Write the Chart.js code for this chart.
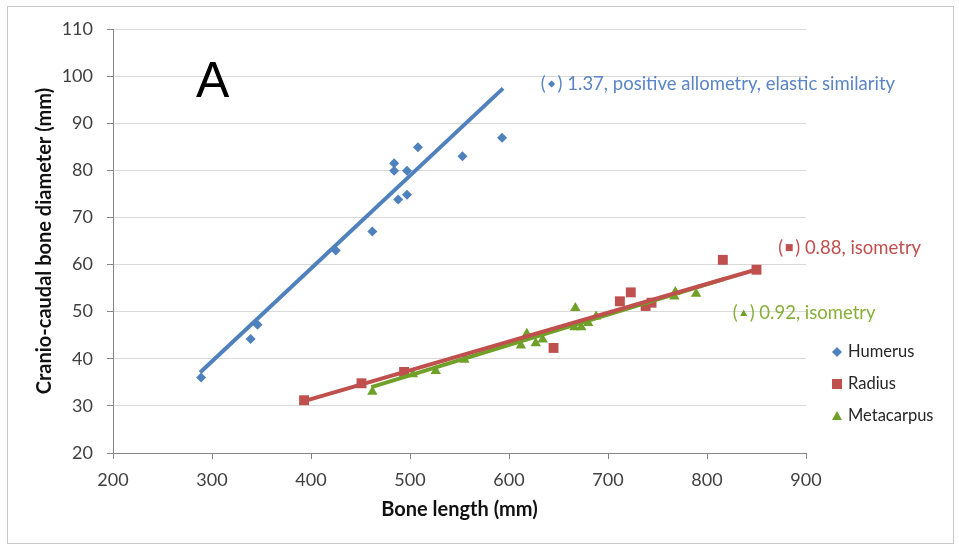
<!DOCTYPE html>
<html lang="en">
<head>
<meta charset="utf-8">
<script src="https://cdn.jsdelivr.net/npm/chart.js@4/dist/chart.umd.min.js"></script>
<style>
  html, body { margin: 0; padding: 0; background: #fff; }
</style>
</head>
<body>
<canvas id="chart" width="959" height="545"></canvas>
<script>
// values: bone length (mm) vs cranio-caudal diameter (mm)
const humerusX = [289, 339, 346, 425, 462, 484, 484, 497, 488, 497, 508, 553, 593];
const humerusY = [36.0, 44.2, 47.2, 63.0, 67.0, 81.5, 79.9, 79.9, 73.8, 74.8, 84.9, 83.0, 86.9];

const radiusX = [393, 451, 494, 645, 712, 723, 738, 744, 816, 850];
const radiusY = [31.2, 34.8, 37.2, 42.3, 52.2, 54.1, 51.2, 51.9, 61.0, 58.9];

const metacarpusX = [462, 503, 526, 555, 612, 618, 627, 634, 666, 667, 673, 680, 688, 767, 768, 789];
const metacarpusY = [33.0, 36.7, 37.4, 39.8, 42.8, 45.3, 43.3, 44.1, 46.7, 50.8, 46.7, 47.6, 49.0, 53.2, 54.2, 53.8];

// fitted lines (end points)
const humerusFitX = [288, 594];
const humerusFitY = [37.1, 97.4];
const radiusFitX = [393, 851];
const radiusFitY = [31.0, 59.0];
const metacarpusFitX = [461, 817];
const metacarpusFitY = [34.0, 56.9];

const seriesNames = ['Humerus', 'Radius', 'Metacarpus'];
const fitTexts = ['1.37, positive allometry, elastic similarity', '0.88, isometry', '0.92, isometry'];
const fitTextX = [632, 872, 826];
const fitTextY = [98.3, 63.6, 49.7];
const panelLetter = 'A';

const xTicks = [200, 300, 400, 500, 600, 700, 800, 900];
const yTicks = [20, 30, 40, 50, 60, 70, 80, 90, 100, 110];

const colors = ['#4F81BD', '#C0504D', '#6FA027'];
const textColors = ['#5B85C6', '#C0504D', '#86B038'];
const styles = ['rectRot', 'rect', 'triangle'];
const FONT = 'Lato, "Open Sans", sans-serif';

function pts(xs, ys) { return xs.map((x, i) => ({x: x, y: ys[i]})); }

function marker(ctx, style, x, y, r, color) {
  ctx.save();
  ctx.fillStyle = color;
  ctx.beginPath();
  if (style === 'rectRot') {
    ctx.moveTo(x - r, y); ctx.lineTo(x, y - r); ctx.lineTo(x + r, y); ctx.lineTo(x, y + r);
  } else if (style === 'rect') {
    ctx.rect(x - r, y - r, 2 * r, 2 * r);
  } else {
    ctx.moveTo(x, y - r); ctx.lineTo(x + r, y + r * 0.8); ctx.lineTo(x - r, y + r * 0.8);
  }
  ctx.closePath();
  ctx.fill();
  ctx.restore();
}

const framePlugin = {
  id: 'frame',
  beforeDraw(chart) {
    const ctx = chart.ctx;
    ctx.save();
    ctx.fillStyle = '#fff';
    ctx.fillRect(0, 0, chart.width, chart.height);
    ctx.strokeStyle = '#C8C8C8';
    ctx.lineWidth = 1;
    ctx.strokeRect(7.5, 6.5, 946, 537);
    ctx.restore();
  }
};

const notesPlugin = {
  id: 'notes',
  afterDraw(chart) {
    const ctx = chart.ctx;
    const xs = chart.scales.x, ys = chart.scales.y;
    ctx.save();
    // panel letter
    ctx.font = '50px "Liberation Sans", Arial, sans-serif';
    ctx.fillStyle = '#000';
    ctx.textBaseline = 'alphabetic';
    ctx.fillText(panelLetter, 196, 97);

    // slope labels
    ctx.font = '18.5px ' + FONT;
    ctx.textBaseline = 'middle';
    for (let i = 0; i < 3; i++) {
      const px = xs.getPixelForValue(fitTextX[i]);
      const py = ys.getPixelForValue(fitTextY[i]);
      ctx.fillStyle = textColors[i];
      ctx.fillText('(', px, py);
      const w = ctx.measureText('(').width;
      marker(ctx, styles[i], px + w + 6, py, 3.5, colors[i]);
      ctx.fillStyle = textColors[i];
      ctx.fillText(') ' + fitTexts[i], px + w + 12, py);
    }

    // legend
    ctx.font = '16.5px ' + FONT;
    for (let i = 0; i < 3; i++) {
      const y = 352 + i * 32;
      marker(ctx, styles[i], 837, y, 5, colors[i]);
      ctx.fillStyle = '#262626';
      ctx.fillText(seriesNames[i], 848, y);
    }
    ctx.restore();
  }
};

const pointSets = [[humerusX, humerusY], [radiusX, radiusY], [metacarpusX, metacarpusY]];
const fitSets = [[humerusFitX, humerusFitY], [radiusFitX, radiusFitY], [metacarpusFitX, metacarpusFitY]];

const datasets = [];
fitSets.forEach((s, i) => {
  datasets.push({
    label: seriesNames[i] + ' fit',
    data: pts(s[0], s[1]),
    showLine: true,
    borderColor: colors[i],
    borderWidth: 4,
    pointRadius: 0,
    order: 0
  });
});
pointSets.forEach((s, i) => {
  datasets.push({
    label: seriesNames[i],
    data: pts(s[0], s[1]),
    backgroundColor: colors[i],
    borderColor: colors[i],
    borderWidth: 0,
    pointStyle: styles[i],
    pointRadius: i === 0 ? 5 : (i === 1 ? 7 : 6),
    order: 1
  });
});

new Chart(document.getElementById('chart'), {
  type: 'scatter',
  data: { datasets: datasets },
  options: {
    responsive: false,
    animation: false,
    layout: { padding: { top: 29, right: 153, left: 0, bottom: 0 } },
    plugins: { legend: { display: false }, tooltip: { enabled: false } },
    scales: {
      x: {
        type: 'linear',
        min: 200, max: 900,
        afterBuildTicks: s => { s.ticks = xTicks.map(v => ({value: v})); },
        afterFit: s => { s.height = 92; },
        border: { color: '#868686', width: 1 },
        grid: { drawOnChartArea: false, drawTicks: true, tickLength: 6, tickColor: '#868686' },
        ticks: { color: '#404040', font: { family: FONT, size: 18 }, padding: 10 },
        title: { display: true, text: 'Bone length (mm)', color: '#111', font: { family: FONT, size: 20, weight: 'bold' }, padding: { top: 0, bottom: 23 } }
      },
      y: {
        type: 'linear',
        min: 20, max: 110,
        afterBuildTicks: s => { s.ticks = yTicks.map(v => ({value: v})); },
        afterFit: s => { s.width = 113; },
        border: { color: '#868686', width: 1 },
        grid: { color: '#D9D9D9', drawTicks: true, tickLength: 6, tickColor: '#868686' },
        ticks: { color: '#404040', font: { family: FONT, size: 18 }, padding: 14 },
        title: { display: true, text: 'Cranio-caudal bone diameter (mm)', color: '#111', font: { family: FONT, size: 20, weight: 'bold' }, padding: { top: 33, bottom: 0 } }
      }
    }
  },
  plugins: [framePlugin, notesPlugin]
});
</script>
</body>
</html>
